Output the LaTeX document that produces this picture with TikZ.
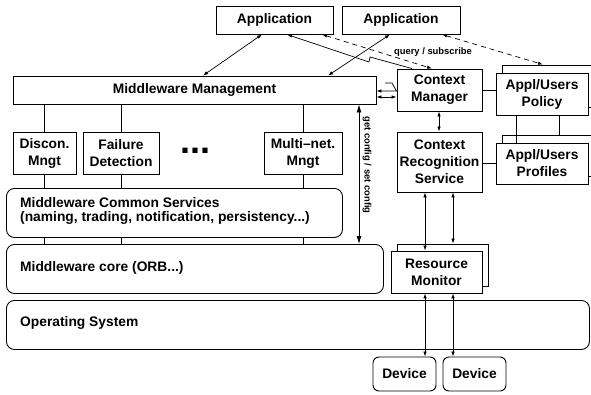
\documentclass[tikz,border=0pt]{standalone}
\usepackage{fontspec}
\setmainfont{Liberation Sans}
\usetikzlibrary{arrows.meta,calc}
\begin{document}
\begin{tikzpicture}[x=1pt,y=-1pt,
  every node/.style={font=\bfseries\fontsize{13.8}{17}\selectfont},
  box/.style={draw, line width=0.9pt, fill=white, inner sep=0pt, align=center},
  layer/.style={draw, line width=0.9pt, rounded corners=8pt, inner sep=0pt},
  dev/.style={draw, line width=0.9pt, rounded corners=6pt, inner sep=0pt},
  txt/.style={inner sep=0pt, anchor=west, align=left},
  conn/.style={line width=0.7pt},
  arr/.style={line width=0.7pt, {Latex[length=5pt,width=3.5pt]}-{Latex[length=5pt,width=3.5pt]}},
  larr/.style={line width=0.7pt, -{Latex[length=5pt,width=3.5pt]}},
  bigarr/.style={line width=0.8pt, {Latex[length=8pt,width=5pt]}-{Latex[length=8pt,width=5pt]}},
  dsh/.style={dash pattern=on 5pt off 4pt},
  small/.style={font=\bfseries\fontsize{9.4}{11}\selectfont, inner sep=0pt}
]
\clip (0,0) rectangle (591,394);

% top applications
\node[box, minimum width=117pt, minimum height=28pt] (app1) at (274.5,20) {Application};
\node[box, minimum width=118pt, minimum height=28pt] (app2) at (401,20) {Application};

% middleware management
\node[box, minimum width=363pt, minimum height=28pt] (mm) at (194.5,90) {Middleware Management};

% context manager / recognition
\node[box, minimum width=85pt, minimum height=42pt] (cm) at (439.5,90) {Context\\Manager};
\node[box, minimum width=85pt, minimum height=60pt] (crs) at (439.5,162) {Context\\Recognition\\Service};

% policy / profiles (stacked)
\node[box, minimum width=92pt, minimum height=42pt] (polb) at (548,86) {};
\node[box, minimum width=92pt, minimum height=42pt] (pol) at (542,94) {Appl/Users\\Policy};
\node[box, minimum width=92pt, minimum height=41pt] (profb) at (548,155.5) {};
\node[box, minimum width=92pt, minimum height=41pt] (prof) at (542,163.5) {Appl/Users\\Profiles};

% management modules
\node[box, minimum width=63pt, minimum height=42pt] (disc) at (44.5,153) {Discon.\\Mngt};
\node[box, minimum width=76pt, minimum height=42pt] (fail) at (121,153) {Failure\\Detection};
\node[box, minimum width=78pt, minimum height=42pt] (multi) at (303,153) {Multi--net.\\Mngt};
\node[inner sep=0pt, anchor=base, font=\bfseries\fontsize{36}{36}\selectfont] (dots) at (195,153.5) {...};

% layers
\node[layer, anchor=north west, minimum width=336pt, minimum height=49pt] (mcs) at (6,188) {};
\node[txt, font=\bfseries\fontsize{13.8}{14}\selectfont] (mcst) at (20,211) {Middleware Common Services\\(naming, trading, notification, persistency...)};
\node[layer, anchor=north west, minimum width=377pt, minimum height=49pt] (core) at (6,244) {};
\node[txt] (coret) at (20,267.5) {Middleware core (ORB...)};
\node[layer, anchor=north west, minimum width=583pt, minimum height=49pt] (os) at (6,300) {};
\node[txt] (ost) at (20,323) {Operating System};

% resource monitor
\node[box, minimum width=91pt, minimum height=42pt] (rmb) at (442.5,265) {};
\node[box, minimum width=91pt, minimum height=42pt] (rm) at (436.5,272) {Resource\\Monitor};

% devices
\node[dev, minimum width=63pt, minimum height=34pt] (dev1) at (404.5,374) {Device};
\node[dev, minimum width=63pt, minimum height=34pt] (dev2) at (474.5,374) {Device};

% plain connectors
\foreach \xx/\b in {44/disc,121/fail,303/multi}{
  \draw[conn] (mm.south -| \xx,0) -- (\b.north -| \xx,0);
  \draw[conn] (\b.south -| \xx,0) -- (mcs.north -| \xx,0);
  \draw[conn] (mcs.south -| \xx,0) -- (core.north -| \xx,0);
}
\draw[conn] (cm.east |- 0,90) -- (pol.west |- 0,90);
\draw[conn] (crs.east |- 0,163) -- (prof.west |- 0,163);
\draw[conn] (pol.south -| 516,0) -- (prof.north -| 516,0);
\draw[conn] (pol.south -| 559,0) -- (profb.north -| 559,0);

% application arrows
\draw[arr] (app1.south -| 262,0) -- (mm.north -| 203,0);
\draw[arr] (app2.south -| 390,0) -- (mm.north -| 328,0);
\draw[larr] (cm.north -| 412,0) -- (370,57) -- (369,62) -- (app1.south -| 287,0);
\draw[arr, dsh] (app1.south -| 322,0) -- (cm.north -| 432,0);
\draw[arr, dsh] (app2.south -| 442,0) -- (polb.north -| 543,0);
\node[small] (qs) at (433,52) {query / subscribe};

% MM <-> CM
\draw[larr] (385,83) -- (392,83) -- (cm.west |- 0,91) -- (mm.east |- 0,91);
\draw[arr] (mm.east |- 0,97) -- (cm.west |- 0,97);

% get config
\draw[bigarr] (mm.south -| 359,0) -- (core.north -| 359,0);
\node[small, rotate=-90] (gc) at (367,165) {get config / set config};

% CM <-> CRS <-> RM <-> devices
\draw[arr] (cm.south -| 439,0) -- (crs.north -| 439,0);
\draw[arr] (crs.south -| 425,0) -- (rm.north -| 425,0);
\draw[arr] (crs.south -| 453,0) -- (rmb.north -| 453,0);
\draw[arr] (rm.south -| 425,0) -- (dev1.north -| 425,0);
\draw[arr] (rm.south -| 453,0) -- (dev2.north -| 453,0);
\end{tikzpicture}
\end{document}
